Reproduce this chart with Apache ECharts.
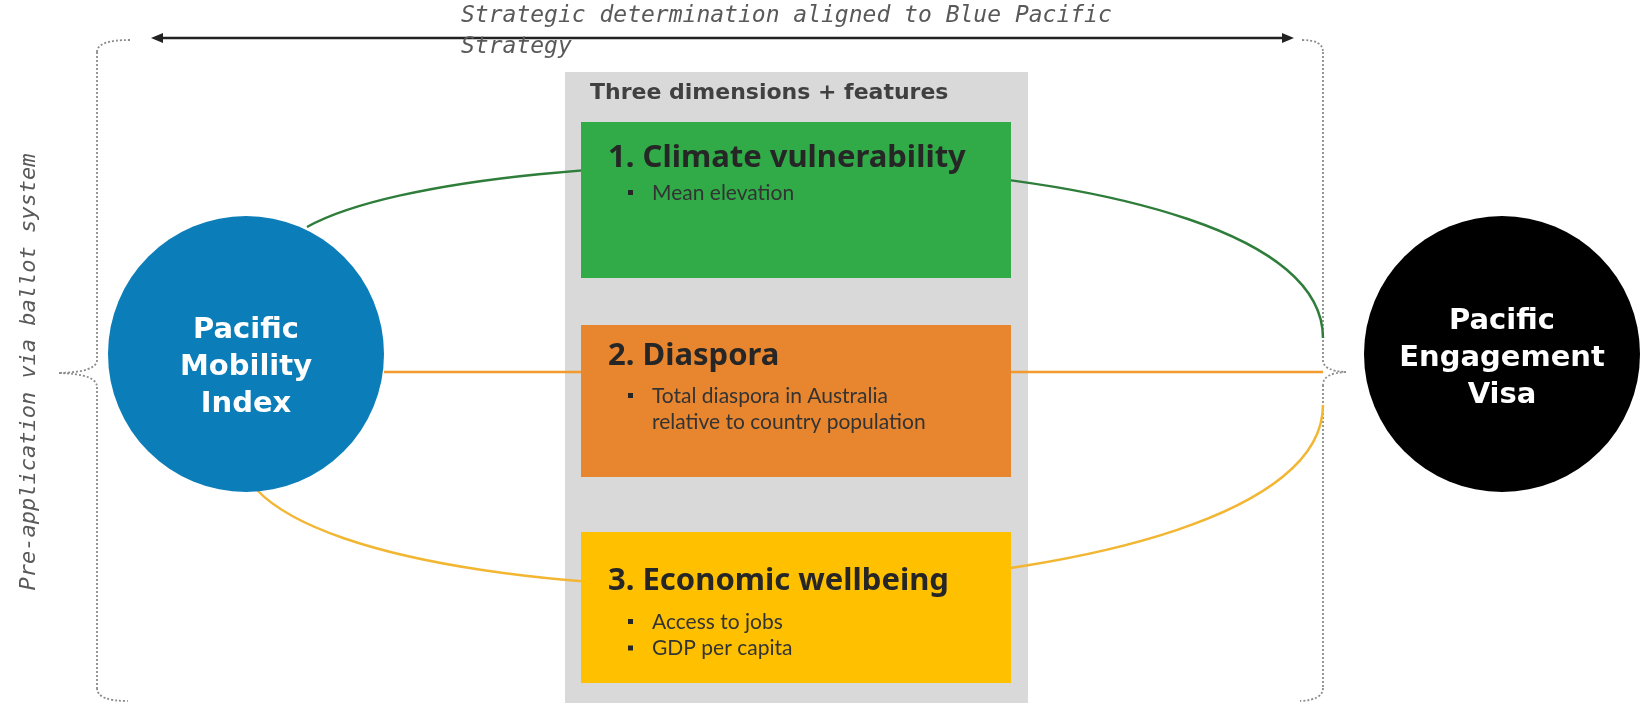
<!DOCTYPE html>
<html>
<head>
<meta charset="utf-8">
<script src="https://cdn.jsdelivr.net/npm/echarts@6/dist/echarts.min.js"></script>
<style>
  html, body { margin: 0; padding: 0; background: #fff; }
  #chart { width: 1642px; height: 707px; }
</style>
</head>
<body>
<div id="chart"></div>
<script>
// diagram texts
const topLabel = ['Strategic determination aligned to Blue Pacific', 'Strategy'];
const sideLabel = 'Pre-application via ballot system';
const panelTitle = 'Three dimensions + features';
const dimensionTitles = ['1. Climate vulnerability', '2. Diaspora', '3. Economic wellbeing'];
const dimensionFeatures = [
    [['Mean elevation']],
    [['Total diaspora in Australia', 'relative to country population']],
    [['Access to jobs'], ['GDP per capita']]
];
const nodeLabels = ['Pacific\nMobility\nIndex', 'Pacific\nEngagement\nVisa'];

// colours
const boxColors = ['#30AB48', '#E8862F', '#FFC000'];
const linkColors = ['#2E7D3A', '#F39A2E', '#F2B632'];
const nodeColors = ['#0B7DB8', '#000000'];

// layout (px)
const boxX = 581, boxW = 430;
const boxY = [122, 325, 532];
const boxH = [156, 152, 151];
const titleY = [158, 356, 581];
const bulletY = [193, 396, 622];
const nodeCenters = [[246, 354], [1502, 354]];
const nodeTextShift = [13, 4];

// dotted brace made of straight and quadratic pieces
function brace (els, pieces) {
    const st = { stroke: '#8c8c8c', lineWidth: 1.8, lineDash: [2, 2], fill: null };
    pieces.forEach(p => {
        if (p.length === 2) {
            els.push({ type: 'polyline', z: 1, shape: { points: p }, style: st });
        } else {
            els.push({ type: 'bezierCurve', z: 1, shape: {
                x1: p[0][0], y1: p[0][1], cpx1: p[1][0], cpy1: p[1][1], x2: p[2][0], y2: p[2][1]
            }, style: st });
        }
    });
}

function initDiagram (node) {
    const chart = echarts.init(node);
    const els = [];

    // top label + arrow
    topLabel.forEach((t, i) => {
        els.push({
            type: 'text', x: 461, y: 16 + i * 31, z: 6,
            style: { text: t, fill: '#595959', fontSize: 23, fontStyle: 'italic',
                fontFamily: 'DejaVu Sans Mono', textVerticalAlign: 'middle' }
        });
    });
    els.push({ type: 'polyline', z: 5, shape: { points: [[158, 38], [1287, 38]] },
        style: { stroke: '#222', lineWidth: 2.5 } });
    els.push({ type: 'polygon', z: 5, shape: { points: [[151, 38], [163, 33], [163, 43]] },
        style: { fill: '#222' } });
    els.push({ type: 'polygon', z: 5, shape: { points: [[1294, 38], [1282, 33], [1282, 43]] },
        style: { fill: '#222' } });

    // dotted braces
    brace(els, [
        [[130, 40], [97, 40], [97, 52]], [[97, 52], [97, 360]],
        [[97, 360], [97, 372], [59, 373]], [[59, 373], [97, 374], [97, 387]],
        [[97, 387], [97, 688]], [[97, 688], [97, 701], [128, 701]]
    ]);
    brace(els, [
        [[1302, 40], [1323, 40], [1323, 52]], [[1323, 52], [1323, 360]],
        [[1323, 360], [1323, 371], [1346, 372]], [[1346, 372], [1323, 373], [1323, 385]],
        [[1323, 385], [1323, 688]], [[1323, 688], [1323, 700], [1300, 701]]
    ]);

    els.push({
        type: 'text', x: 29, y: 372, rotation: Math.PI / 2, z: 6,
        style: { text: sideLabel, fill: '#595959', fontSize: 22, fontStyle: 'italic',
            fontFamily: 'DejaVu Sans Mono', textAlign: 'center', textVerticalAlign: 'middle' }
    });

    // grey panel
    els.push({ type: 'rect', z: 1, shape: { x: 565, y: 72, width: 463, height: 631 },
        style: { fill: '#D9D9D9' } });
    els.push({ type: 'text', x: 590, y: 93, z: 6,
        style: { text: panelTitle, fill: '#404040', fontSize: 22, fontWeight: 'bold',
            fontFamily: 'DejaVu Sans', textVerticalAlign: 'middle' } });

    // links
    els.push({ type: 'bezierCurve', z: 2, shape: {
        x1: 307, y1: 227, cpx1: 480, cpy1: 130, cpx2: 1323, cpy2: 130, x2: 1323, y2: 338
    }, style: { stroke: linkColors[0], lineWidth: 2.5, fill: null } });
    els.push({ type: 'polyline', z: 2, shape: { points: [[384, 372], [1323, 372]] },
        style: { stroke: linkColors[1], lineWidth: 2.5 } });
    els.push({ type: 'bezierCurve', z: 2, shape: {
        x1: 257, y1: 490, cpx1: 400, cpy1: 640, cpx2: 1323, cpy2: 620, x2: 1323, y2: 405
    }, style: { stroke: linkColors[2], lineWidth: 2.5, fill: null } });

    // dimension boxes
    dimensionTitles.forEach((title, i) => {
        els.push({ type: 'rect', z: 3, shape: { x: boxX, y: boxY[i], width: boxW, height: boxH[i] },
            style: { fill: boxColors[i] } });
        els.push({ type: 'text', x: 608, y: titleY[i], z: 6,
            style: { text: title, fill: '#262626', fontSize: 31, fontWeight: 'bold',
                fontFamily: 'Noto Sans', textVerticalAlign: 'middle' } });
        let line = 0;
        dimensionFeatures[i].forEach(feature => {
            feature.forEach((f, j) => {
                const y = bulletY[i] + line * 26.5;
                if (j === 0) {
                    els.push({ type: 'rect', z: 6, shape: { x: 628, y: y - 3, width: 5, height: 5 },
                        style: { fill: '#262626' } });
                }
                els.push({ type: 'text', x: 652, y: y, z: 6,
                    style: { text: f, fill: '#333', fontSize: 21, fontFamily: 'Lato',
                        textVerticalAlign: 'middle' } });
                line++;
            });
        });
    });

    // end nodes
    nodeLabels.forEach((label, i) => {
        const c = nodeCenters[i];
        els.push({ type: 'circle', z: 7, shape: { cx: c[0], cy: c[1], r: 138 },
            style: { fill: nodeColors[i] } });
        els.push({ type: 'text', x: c[0], y: c[1] + nodeTextShift[i], z: 8,
            style: { text: label, fill: '#fff', fontSize: 29, fontWeight: 'bold',
                fontFamily: 'DejaVu Sans', lineHeight: 37,
                textAlign: 'center', textVerticalAlign: 'middle' } });
    });

    chart.setOption({
        backgroundColor: '#fff',
        animation: false,
        graphic: { elements: els }
    });
}

initDiagram(document.getElementById('chart'));
</script>
</body>
</html>
